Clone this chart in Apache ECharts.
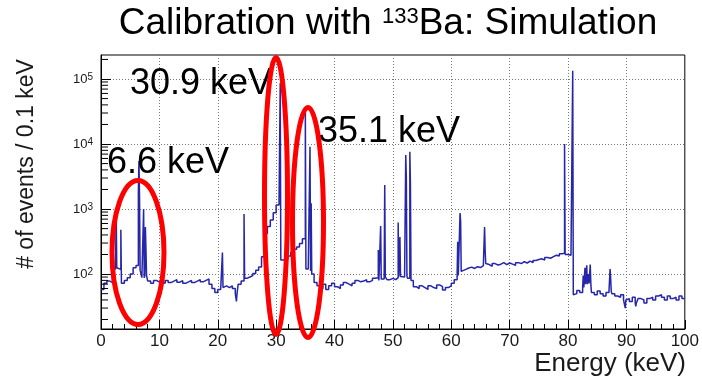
<!DOCTYPE html>
<html>
<head>
<meta charset="utf-8">
<script src="https://cdn.jsdelivr.net/npm/echarts@6/dist/echarts.min.js"></script>
<style>
  html, body { margin: 0; padding: 0; background: #ffffff; }
  #chart { width: 702px; height: 382px; }
</style>
</head>
<body>
<div id="chart"></div>
<script>
// Coarse histogram: counts per 0.1 keV, read every 0.5 keV (bin starts at 0, 0.5, 1.0 ...)
const coarseCounts = [
  58, 72, 78, 74, 120, 125, 118, 72, 80, 88,      // 0-5
  100, 125, 135, 115, 88, 95, 78, 72, 80, 75,     // 5-10
  76, 72, 80, 74, 78, 82, 75, 79, 72, 76,         // 10-15
  80, 74, 78, 82, 76, 80, 84, 70, 60, 52,         // 15-20
  58, 62, 66, 62, 66, 60, 50, 70, 78, 86,         // 20-25
  90, 95, 102, 115, 128, 185, 420, 540, 680, 880, // 25-30
  1150, 1450, 165, 170, 190, 215, 240, 262, 295, 350, // 30-35
  120, 112, 100, 74, 66, 60, 70, 58, 66, 72,      // 35-40
  64, 60, 68, 74, 70, 66, 72, 80, 76, 78,         // 40-45
  82, 76, 80, 86, 88, 80, 84, 90, 82, 86,         // 45-50
  82, 88, 92, 90, 94, 86, 80, 64, 60, 66,         // 50-55
  62, 58, 66, 62, 60, 68, 64, 57, 62, 66,         // 55-60
  72, 82, 95, 110, 118, 124, 128, 122, 130, 126,  // 60-65
  135, 145, 140, 132, 145, 138, 142, 150, 140, 148, // 65-70
  142, 136, 150, 145, 155, 148, 158, 150, 162, 168, // 70-75
  172, 165, 180, 175, 185, 195, 190, 205, 210, 200, // 75-80
  195, 185, 50, 56, 52, 62, 70, 72, 52, 48,       // 80-85
  55, 50, 46, 52, 54, 50, 46, 44, 48, 40,         // 85-90
  42, 38, 44, 36, 42, 40, 36, 42, 44, 40,         // 90-95
  46, 48, 44, 40, 46, 42, 44, 40, 46, 42          // 95-100
];
// Individual 0.1 keV bins (lines, spikes, dips): [bin start energy (keV), counts]
const fineBins = [
  [2.6, 1000], [3.4, 480],
  [6.4, 1800], [6.5, 5500], [6.6, 1500], [7.3, 1000], [7.6, 530], [7.7, 240],
  [20.8, 215], [23.2, 38], [24.5, 840],
  [30.7, 87000], [30.8, 165], [30.9, 160],
  [35.0, 35000], [35.8, 9100], [36.0, 1230],
  [47.5, 235], [47.9, 550], [48.6, 2350], [50.9, 620], [51.2, 370],
  [52.2, 6800], [52.3, 3000], [52.9, 7600], [53.0, 2500],
  [61.1, 315], [61.5, 870], [61.6, 650],
  [65.7, 530], [65.8, 230],
  [79.4, 10000], [80.8, 134000], [80.9, 48],
  [82.6, 95], [82.9, 125], [83.2, 137], [83.5, 100], [83.8, 140],
  [87.2, 120], [87.3, 85], [89.8, 30], [91.6, 32]
];
// Axis ticks
const xTickValues = [0, 10, 20, 30, 40, 50, 60, 70, 80, 90, 100];
const yMinorTicks = [20, 30, 40, 50, 60, 70, 80, 90,
  200, 300, 400, 500, 600, 700, 800, 900,
  2000, 3000, 4000, 5000, 6000, 7000, 8000, 9000,
  20000, 30000, 40000, 50000, 60000, 70000, 80000, 90000, 200000];
const yMin = 14.3, yMax = 234000;

// Build step-histogram points (bin left edges)
const fineMap = {};
fineBins.forEach(function (b) { fineMap[Math.round(b[0] * 10)] = b[1]; });
const histData = [];
let prev = null;
for (let k = 0; k < coarseCounts.length * 5; k++) {
  const v = (k in fineMap) ? fineMap[k] : coarseCounts[Math.floor(k / 5)];
  if (v !== prev) { histData.push([k / 10, v]); prev = v; }
}
histData.push([100, prev]);

const FONT = 'Liberation Sans, Arial, Helvetica, sans-serif';
const chart = echarts.init(document.getElementById('chart'), null, { renderer: 'canvas' });

chart.setOption({
  animation: false,
  backgroundColor: '#ffffff',
  grid: { left: 101, right: 16, top: 55, bottom: 53, show: true, borderColor: '#000', borderWidth: 1, backgroundColor: 'transparent' },
  xAxis: {
    type: 'value', min: 0, max: 100, interval: 10,
    axisLine: { show: true, lineStyle: { color: '#000', width: 1 } },
    axisTick: { show: true, inside: true, length: 9, lineStyle: { color: '#000' } },
    minorTick: { show: true, splitNumber: 5, length: 5, lineStyle: { color: '#000' } },
    axisLabel: { fontSize: 17, color: '#1a1a1a', margin: 4, fontFamily: FONT,
      formatter: function (v) { return xTickValues.indexOf(v) >= 0 ? String(v) : ''; } },
    splitLine: { show: true, showMinLine: false, showMaxLine: false, lineStyle: { color: '#777', type: [1, 2], width: 1 } }
  },
  yAxis: {
    type: 'log', logBase: 10, min: yMin, max: yMax,
    axisLine: { show: true, lineStyle: { color: '#000', width: 1 } },
    axisTick: { show: true, inside: true, length: 10, lineStyle: { color: '#000' } },
    axisLabel: {
      showMinLabel: false, showMaxLabel: false, margin: 8, color: '#1a1a1a', fontFamily: FONT,
      formatter: function (v) {
        const e = Math.round(Math.log10(v));
        if (Math.abs(Math.log10(v) - e) > 1e-6) return '';
        return '{b|10}{s|' + e + '}';
      },
      rich: {
        b: { fontSize: 13, lineHeight: 13, padding: [4, 0, 0, 0], verticalAlign: 'bottom', color: '#1a1a1a', fontFamily: FONT },
        s: { fontSize: 10, lineHeight: 10, verticalAlign: 'top', color: '#1a1a1a', fontFamily: FONT }
      }
    },
    splitLine: { show: true, showMinLine: false, showMaxLine: false, lineStyle: { color: '#777', type: [1, 2], width: 1 } }
  },
  series: [
    {
      type: 'line', data: histData, step: 'end', showSymbol: false, symbol: 'none',
      lineStyle: { color: '#2626aa', width: 1.5 }, z: 3, silent: true, clip: true
    },
    {
      type: 'custom', silent: true, z: 4, clip: false,
      data: yMinorTicks.map(function (v) { return [0, v]; }),
      renderItem: function (params, api) {
        const p = api.coord([0, api.value(1)]);
        return { type: 'line', shape: { x1: p[0], y1: p[1], x2: p[0] + 7, y2: p[1] }, style: { stroke: '#000', lineWidth: 1 } };
      }
    }
  ],
  graphic: [
    { type: 'text', x: 388, y: 24, z: 100,
      style: { text: '{t|Calibration with }{s|133}{t|Ba: Simulation}', align: 'center', verticalAlign: 'middle',
        rich: {
          t: { fontSize: 37, lineHeight: 37, padding: [8, 0, 0, 0], verticalAlign: 'bottom', fill: '#000', fontFamily: FONT },
          s: { fontSize: 22, lineHeight: 22, verticalAlign: 'top', fill: '#000', fontFamily: FONT }
        } } },
    { type: 'text', x: 27, y: 164, rotation: Math.PI / 2, z: 100,
      style: { text: '# of events / 0.1 keV', align: 'center', verticalAlign: 'middle', fontSize: 23, fill: '#1a1a1a', fontFamily: FONT } },
    { type: 'text', x: 686, y: 364, z: 100,
      style: { text: 'Energy (keV)', align: 'right', verticalAlign: 'middle', fontSize: 26, fill: '#1a1a1a', fontFamily: FONT } },
    { type: 'text', x: 130, y: 84, z: 100,
      style: { text: '30.9 keV', align: 'left', verticalAlign: 'middle', fontSize: 36, fill: '#000', fontFamily: FONT } },
    { type: 'text', x: 107, y: 163, z: 100,
      style: { text: '6.6 keV', align: 'left', verticalAlign: 'middle', fontSize: 36, fill: '#000', fontFamily: FONT } },
    { type: 'text', x: 318, y: 132, z: 100,
      style: { text: '35.1 keV', align: 'left', verticalAlign: 'middle', fontSize: 36, fill: '#000', fontFamily: FONT } },
    { type: 'ellipse', z: 101, shape: { cx: 138, cy: 252.5, rx: 26, ry: 72 },
      style: { fill: 'none', stroke: '#ff0000', lineWidth: 5 } },
    { type: 'ellipse', z: 101, shape: { cx: 276, cy: 196, rx: 11.5, ry: 138.5 },
      style: { fill: 'none', stroke: '#ff0000', lineWidth: 5 } },
    { type: 'ellipse', z: 101, shape: { cx: 308, cy: 222.5, rx: 15.5, ry: 115 },
      style: { fill: 'none', stroke: '#ff0000', lineWidth: 5 } }
  ]
});
</script>
</body>
</html>
